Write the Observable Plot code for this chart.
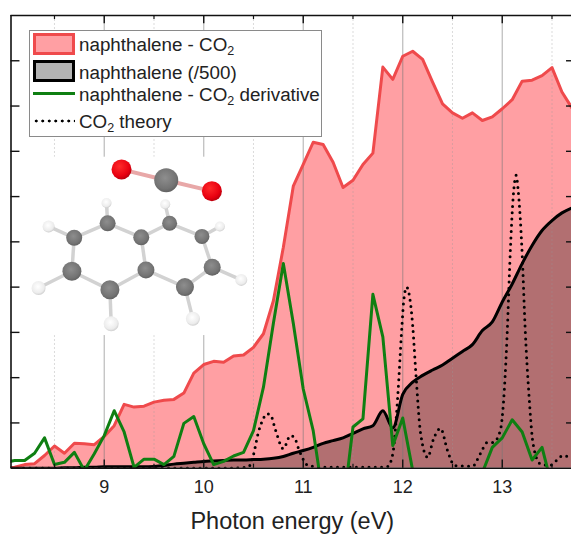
<!DOCTYPE html>
<html><head><meta charset="utf-8">
<script src="https://cdn.jsdelivr.net/npm/d3@7"></script>
<script src="https://cdn.jsdelivr.net/npm/@observablehq/plot@0.6"></script>
<style>
html,body{margin:0;padding:0;background:#fff;}
#wrap{position:relative;width:571px;height:534px;overflow:hidden;font-family:"Liberation Sans",Arial,sans-serif;color:#222;}
#legend{position:absolute;left:29px;top:30px;width:293px;height:107px;background:#fff;border:1.3px solid #8a8a8a;box-sizing:border-box;}
#legend .row{position:absolute;left:49px;font-size:18.8px;line-height:20px;white-space:nowrap;}
#legend sub{font-size:12.5px;line-height:0;vertical-align:-4px;}
#legend .sw{position:absolute;left:3px;width:42px;box-sizing:border-box;}
</style></head><body>
<div id="wrap">
<div id="chart"></div>
<div id="legend">
  <div class="sw" style="top:2px;height:22px;background:#ff9fa3;border:3px solid #ef4a4c"></div>
  <div class="row" style="top:4px">naphthalene - CO<sub>2</sub></div>
  <div class="sw" style="top:29px;height:22px;background:#b3b3b3;border:3px solid #000"></div>
  <div class="row" style="top:32px">naphthalene (/500)</div>
  <div class="sw" style="top:61px;height:3px;background:#0f7f12"></div>
  <div class="row" style="top:54px">naphthalene - CO<sub>2</sub> derivative</div>
  <div class="sw" style="top:88px;height:4px;background:radial-gradient(circle,#000 1.3px,transparent 1.7px) 0 0/6.5px 4px repeat-x"></div>
  <div class="row" style="top:81px">CO<sub>2</sub> theory</div>
</div>
</div>
<script>
const energy = [8.0,8.1,8.2,8.3,8.4,8.5,8.6,8.7,8.8,8.9,9.0,9.1,9.2,9.3,9.4,9.5,9.6,9.7,9.8,9.9,
  10.0,10.1,10.2,10.3,10.4,10.5,10.6,10.7,10.8,10.9,11.0,11.1,11.2,11.3,11.4,11.5,11.6,11.7,11.8,11.9,
  12.0,12.1,12.2,12.3,12.4,12.5,12.6,12.7,12.8,12.9,13.0,13.1,13.2,13.3,13.4,13.5,13.6,13.7];
const complexSignal = [0,.02,.08,.1,.28,.49,.33,.55,.54,.52,.70,.94,1.41,1.35,1.37,1.46,1.50,1.52,1.66,2.10,
  2.29,2.36,2.34,2.48,2.50,2.67,2.97,3.7,4.88,6.23,6.71,7.2,7.15,6.76,6.2,6.36,6.71,6.96,8.86,8.59,
  9.1,9.21,9.03,8.53,8.05,7.85,7.73,7.85,7.68,7.76,7.94,8.14,8.55,8.57,8.67,8.85,8.31,7.96];
const naphthalene = [0,0,0,0,0,0,.01,.01,.02,.02,.03,.03,.03,.03,.03,.04,.06,.09,.11,.13,
  .15,.16,.17,.18,.18,.19,.2,.22,.26,.33,.39,.46,.55,.61,.67,.77,.87,.94,1.27,.89,
  1.63,1.90,2.05,2.17,2.28,2.43,2.58,2.73,3.04,3.23,3.67,4.07,4.52,4.92,5.25,5.47,5.64,5.75];
const derivative = [.13,.17,.17,.33,.67,.08,.13,.35,-.05,.32,.72,1.27,.80,.02,.2,.2,.08,.26,.99,1.14,
  .54,.08,.15,.27,.35,.83,1.79,3.2,4.52,3.2,1.75,.83,-.64,-1,-.9,.91,1.09,3.84,2.9,.5,
  1.11,-.05,-.5,-.5,-.5,-.5,-.5,-.5,-.1,.46,.67,1.07,.8,.18,.46,-.4,-.5,-.5];
const theoryX = [8.0,10.3,10.45,10.5,10.55,10.6,10.63,10.67,10.72,10.8,10.87,10.91,10.96,11.05,11.2,11.8,11.85,11.9,11.95,11.99,12.01,12.04,12.06,12.10,12.13,12.18,12.25,12.31,12.38,12.45,12.52,12.7,12.78,12.85,12.91,12.98,13.02,13.05,13.08,13.11,13.14,13.16,13.2,13.23,13.27,13.31,13.38,13.48,13.55,13.61,13.7];
const theoryY = [0,0,.03,.3,.8,1.1,1.2,1.18,.85,.43,.72,.68,.39,.06,.02,.02,.04,.32,1.6,3.08,3.7,4.0,3.89,3.15,2.16,.76,.24,.65,.88,.39,.06,.04,.32,.57,.57,.83,1.7,3.0,4.74,5.99,6.47,6.14,4.74,3.1,1.57,.54,.1,.06,.18,.28,.2];

const majorX = [9,10,11,12,13];
const minorX = [8.5,9.5,10.5,11.5,12.5,13.5];
const tickY = [1,2,3,4,5,6,7,8,9];

// molecule drawn in the chart's own units
const atomX = [9.174,9.623,10.082, 9.034,8.698,8.675,9.057,9.419,9.372,9.657,9.982,10.085,9.811, 9.023,8.441,8.34,9.07,9.891,10.377,10.162,9.613];
const atomY = [6.60,6.36,6.12, 5.41,5.09,4.35,3.94,4.38,5.10,5.41,5.12,4.44,4.0, 5.86,5.34,3.98,3.19,3.30,4.16,5.34,5.83];
const atomR = [10,12,10, 8,8,9.5,9.5,8.5,8,7.5,7.5,8.5,9, 5,6,7,7.5,7,6,5,5];
const atomKind = ["O","C","O","C","C","C","C","C","C","C","C","C","C","H","H","H","H","H","H","H","H"];
const bondA = [3,4,5,6,7,8,8,9,10,11,12,3,4,5,6,12,11,10,9];
const bondB = [4,5,6,7,8,3,9,10,11,12,7,13,14,15,16,17,18,19,20];

const series = energy.map((x,i)=>({x,red:complexSignal[i],black:naphthalene[i],green:derivative[i]}));
const theory = theoryX.map((x,i)=>({x,y:theoryY[i]}));
const atoms = atomX.map((x,i)=>({x,y:atomY[i],r:atomR[i],kind:atomKind[i]}));
const bonds = bondA.map((a,i)=>({a:atoms[a],b:atoms[bondB[i]]}));
const co2Bonds = [{a:atoms[0],b:atoms[1]},{a:atoms[1],b:atoms[2]}];

const xMin=8.063, xMax=13.696;
const plot = Plot.plot({
  width:571,height:534,marginLeft:10.5,marginTop:15,marginBottom:66.3,marginRight:0,
  style:{fontFamily:'"Liberation Sans",Arial,sans-serif',background:"#fff",color:"#222"},
  x:{domain:[xMin,xMax]},
  y:{domain:[0,10]},
  r:{type:"identity"},
  marks:[
    Plot.areaY(series,{x:"x",y:"red",fill:"#ff9fa3",clip:true}),
    Plot.areaY(series,{x:"x",y:"black",curve:"monotone-x",fill:"#000",fillOpacity:.3,clip:true}),
    Plot.ruleX(majorX,{stroke:"#777",strokeOpacity:.5,strokeWidth:1.2}),
    Plot.ruleX(minorX,{stroke:"#999",strokeOpacity:.35,strokeWidth:1,strokeDasharray:"2 2"}),
    Plot.rect([0],{x1:8.2,x2:10.45,y1:2.93,y2:6.87,fill:"#fff"}),
    Plot.line(theory,{x:"x",y:"y",stroke:"#000",strokeWidth:3,strokeDasharray:"0 6.3",strokeLinecap:"round",curve:"monotone-x",clip:true}),
    Plot.line(series,{x:"x",y:"red",stroke:"#ef4a4c",strokeWidth:3,clip:true}),
    Plot.line(series,{x:"x",y:"black",curve:"monotone-x",stroke:"#000",strokeWidth:3,clip:true}),
    Plot.line(series,{x:"x",y:"green",stroke:"#0f7f12",strokeWidth:3,clip:true}),
    // frame and ticks
    Plot.ruleY([0],{stroke:"#111",strokeWidth:1.6}),
    Plot.ruleY([10],{stroke:"#111",strokeWidth:1.6}),
    Plot.ruleX([xMin],{stroke:"#111",strokeWidth:1.6}),
    Plot.ruleX(majorX,{y1:0,y2:.18,stroke:"#111",strokeWidth:1.4}),
    Plot.ruleX(minorX,{y1:0,y2:.09,stroke:"#111",strokeWidth:1.2}),
    Plot.ruleX(majorX,{y1:10,y2:9.82,stroke:"#111",strokeWidth:1.4}),
    Plot.ruleX(minorX,{y1:10,y2:9.91,stroke:"#111",strokeWidth:1.2}),
    Plot.ruleY(tickY,{x1:xMin,x2:xMin+.09,stroke:"#111",strokeWidth:1.4}),
    Plot.ruleY(tickY,{x1:xMax-.05,x2:xMax,stroke:"#111",strokeWidth:1.4}),
    Plot.axisX(majorX,{anchor:"bottom",tickSize:0,tickPadding:12,label:null,fontSize:18,tickFormat:d=>String(d)}),
    Plot.axisY({ticks:[],label:null,tickSize:0}),
    Plot.text(["Photon energy (eV)"],{frameAnchor:"bottom",x:10.89,dy:53,fontSize:23.5,fill:"#222",lineAnchor:"middle"}),
    // molecule
    Plot.link(bonds,{x1:d=>d.a.x,y1:d=>d.a.y,x2:d=>d.b.x,y2:d=>d.b.y,stroke:"#d2d2d2",strokeWidth:3.5}),
    Plot.link(co2Bonds,{x1:d=>d.a.x,y1:d=>d.a.y,x2:d=>d.b.x,y2:d=>d.b.y,stroke:"#e8a8a8",strokeWidth:4}),
    Plot.dot(atoms,{x:"x",y:"y",r:"r",stroke:"none",fill:d=>d.kind==="O"?"url(#atomO)":d.kind==="C"?"url(#atomC)":"url(#atomH)"})
  ]
});
const defs=`<defs>
<radialGradient id="atomO" cx=".4" cy=".35" r=".7"><stop offset="0" stop-color="#ff2a2a"/><stop offset=".7" stop-color="#e80010"/><stop offset="1" stop-color="#b0000c"/></radialGradient>
<radialGradient id="atomC" cx=".45" cy=".4" r=".65"><stop offset="0" stop-color="#8e8e8e"/><stop offset=".7" stop-color="#737373"/><stop offset="1" stop-color="#5c5c5c"/></radialGradient>
<radialGradient id="atomH" cx=".45" cy=".4" r=".65"><stop offset="0" stop-color="#ffffff"/><stop offset=".7" stop-color="#ececec"/><stop offset="1" stop-color="#c4c4c4"/></radialGradient>
</defs>`;
plot.insertAdjacentHTML("afterbegin",defs);
document.getElementById("chart").appendChild(plot);
</script>
</body></html>
